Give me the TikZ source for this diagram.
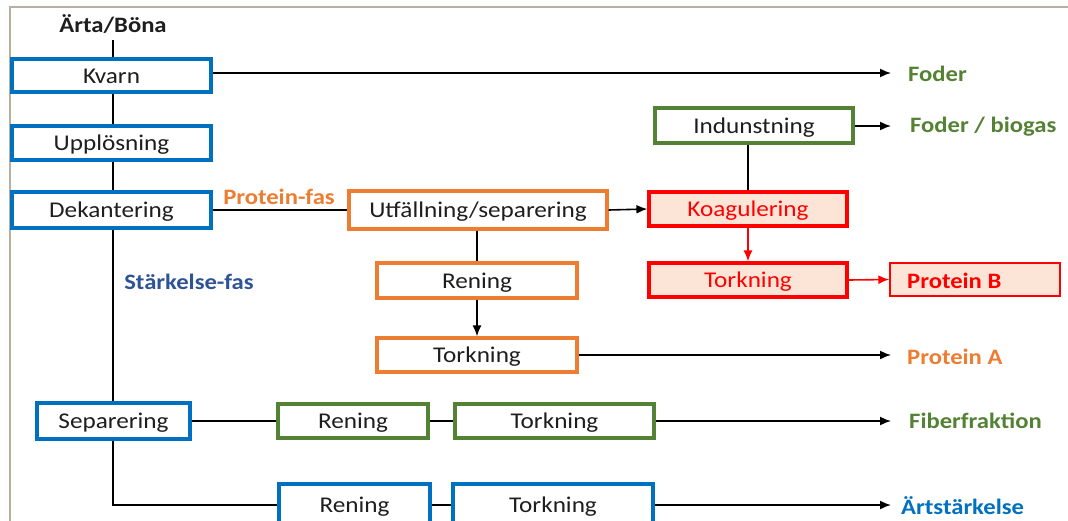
\documentclass[tikz,border=0pt]{standalone}
\usepackage{fontspec}
\setmainfont{Carlito}[FakeStretch=1.12]
\usetikzlibrary{arrows.meta}
\definecolor{cblue}{RGB}{0,112,192}
\definecolor{corange}{RGB}{237,125,49}
\definecolor{cgreen}{RGB}{84,130,53}
\definecolor{cred}{RGB}{255,0,0}
\definecolor{cpink}{RGB}{252,228,214}
\definecolor{cdblue}{RGB}{47,84,150}
\definecolor{cframe}{RGB}{185,175,160}
\definecolor{ctext}{RGB}{30,30,30}
\tikzset{
  box/.style={draw, line width=3.2pt, inner sep=0pt, fill=white, text=ctext,
    text height=18pt, text depth=3pt,
    font=\fontsize{22.5}{26}\selectfont},
  bbox/.style={box, draw=cblue},
  obox/.style={box, draw=corange},
  gbox/.style={box, draw=cgreen},
  rbox/.style={box, draw=cred, fill=cpink, text=cred},
  lbl/.style={font=\bfseries\fontsize{22}{26}\selectfont, anchor=west, inner sep=0pt},
  conn/.style={line width=1.6pt, draw=black},
  arr/.style={conn, -{Latex[length=11pt,width=9pt]}},
  rarr/.style={line width=1.6pt, draw=cred, -{Latex[length=11pt,width=9pt]}},
}
\begin{document}
\begin{tikzpicture}[x=1pt,y=-1pt]
\useasboundingbox (0,0) rectangle (1068,520);
\clip (0,0) rectangle (1068,520);
\fill[white] (0,0) rectangle (1068,520);
% frame
\draw[cframe, line width=1.5pt] (10,525) -- (10,7) -- (1068,7);

% top input
\node[font=\bfseries\fontsize{22}{26}\selectfont, text=ctext, inner sep=0pt] (arta) at (113,24) {Ärta/Böna};
\coordinate (artabot) at (113,40);

% left column
\node[bbox, minimum width=199pt, minimum height=33pt] (kvarn) at (111.5,75.5) {Kvarn};
\node[bbox, minimum width=199pt, minimum height=34pt] (upp) at (111.5,143) {Upplösning};
\node[bbox, minimum width=199pt, minimum height=36pt] (dek) at (111.5,210) {Dekantering};
\node[bbox, minimum width=153pt, minimum height=36pt] (sep) at (113.5,421) {Separering};

% protein branch
\node[obox, minimum width=258pt, minimum height=38pt] (utf) at (478,210) {Utfällning/separering};
\node[obox, minimum width=200pt, minimum height=35pt] (ren1) at (477,280.5) {Rening};
\node[obox, minimum width=200pt, minimum height=34pt] (tork1) at (477,355) {Torkning};

\node[gbox, minimum width=198pt, minimum height=35pt] (ind) at (754,125.5) {Indunstning};
\node[rbox, minimum width=198pt, minimum height=34pt] (koag) at (748,209) {Koagulering};
\node[rbox, minimum width=198pt, minimum height=34pt] (tork2) at (748,280) {Torkning};
\node[draw=cred, line width=1.4pt, fill=cpink, inner sep=0pt,
  minimum width=170pt, minimum height=33pt] (protB) at (975,279.5) {};
\node[lbl, text=cred] (protBt) at (907,280.5) {Protein B};

% fibre branch
\node[gbox, minimum width=150pt, minimum height=34pt] (ren2) at (353,421) {Rening};
\node[gbox, minimum width=199pt, minimum height=34pt] (tork3) at (554.5,421) {Torkning};

% starch branch
\node[bbox, minimum width=151pt, minimum height=42pt] (ren3) at (354.5,505) {Rening};
\node[bbox, minimum width=200pt, minimum height=42pt] (tork4) at (553,505) {Torkning};

% output labels
\node[lbl, text=cgreen] (foder) at (908,74) {Foder};
\node[lbl, text=cgreen] (foderb) at (910,127) {Foder / biogas};
\node[lbl, text=corange] (protA) at (907,357) {Protein A};
\node[lbl, text=cgreen] (fiber) at (909,421) {Fiberfraktion};
\node[lbl, text=cblue] (starch) at (901,506) {Ärtstärkelse};
\node[lbl, text=corange, anchor=center] (pfas) at (279,197) {Protein-fas};
\node[lbl, text=cdblue, anchor=center] (sfas) at (189,282) {Stärkelse-fas};

\coordinate (afoder) at (891,73);
\coordinate (afoderb) at (891,126);
\coordinate (aprotA) at (891,355);
\coordinate (afiber) at (891,421);
\coordinate (astarch) at (891,505);
\coordinate (corner) at (113,505);

% connectors
\draw[conn] (artabot) -- (kvarn.north -| artabot);
\draw[conn] (kvarn.south -| artabot) -- (upp.north -| artabot);
\draw[conn] (upp.south -| artabot) -- (dek.north -| artabot);
\draw[conn] (dek.south -| artabot) -- (sep.north -| artabot);
\draw[arr] (kvarn.east |- afoder) -- (afoder);
\draw[conn] (dek.east) -- (utf.west);
\draw[arr] (utf.east) -- (koag.west);
\draw[conn] (utf.south -| ren1) -- (ren1.north);
\draw[arr] (ren1.south) -- (tork1.north);
\draw[arr] (tork1.east |- aprotA) -- (aprotA);
\draw[conn] (ind.south -| koag) -- (koag.north);
\draw[arr] (ind.east |- afoderb) -- (afoderb);
\draw[rarr] (koag.south) -- (tork2.north);
\draw[rarr] (tork2.east) -- (protB.west);
\draw[conn] (sep.east) -- (ren2.west);
\draw[conn] (ren2.east) -- (tork3.west);
\draw[arr] (tork3.east |- afiber) -- (afiber);
\draw[conn] (sep.south -| corner) -- (corner) -- (ren3.west |- corner);
\draw[conn] (ren3.east |- corner) -- (tork4.west |- corner);
\draw[arr] (tork4.east |- astarch) -- (astarch);
\end{tikzpicture}
\end{document}
